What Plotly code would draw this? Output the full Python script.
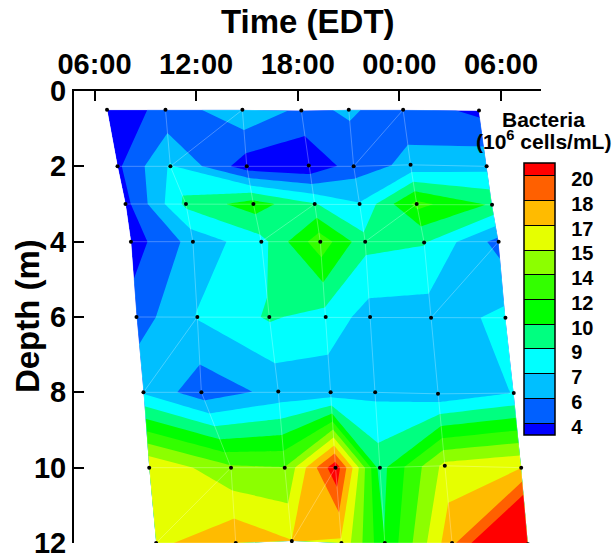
import plotly.graph_objects as go

# Sampling times (hours after the first 06:00 tick), one row per depth level
hours = [
    [0.74, 4.19, 8.73, 12.21, 15.01, 18.22, 22.70],
    [1.36, 4.48, 8.99, 12.65, 15.30, 18.66, 23.15],
    [1.83, 5.40, 9.38, 13.00, 15.65, 19.02, 23.47],
    [2.15, 5.81, 9.85, 13.33, 15.98, 19.46, 23.86],
    [2.48, 6.07, 10.32, 13.65, 16.27, 19.87, 24.26],
    [2.89, 6.31, 10.85, 13.94, 16.57, 20.28, 24.75],
    [3.23, 8.06, 11.23, 14.23, 16.85, 20.68, 25.19],
    [3.64, 8.34, 11.65, 14.58, 17.14, 21.11, 25.59],
]
depths = [
    [0.5, 0.5, 0.5, 0.52, 0.5, 0.5, 0.52],
    [2.0, 2.0, 2.0, 1.98, 2.0, 1.96, 2.0],
    [3.0, 3.0, 3.0, 3.0, 3.0, 3.0, 3.02],
    [4.0, 4.0, 4.0, 4.0, 4.0, 4.02, 4.0],
    [6.0, 6.0, 6.0, 6.0, 6.0, 6.02, 6.02],
    [8.0, 8.0, 7.98, 8.0, 8.0, 8.04, 8.02],
    [10.0, 10.0, 10.0, 10.0, 10.0, 9.95, 10.0],
    [12.0, 12.0, 11.95, 12.0, 12.0, 12.0, 12.03],
]
# Bacteria (10^6 cells/mL)
bacteria = [
    [3.2, 4.36, 7.0, 5.2, 5.8, 4.9, 3.6],
    [3.7, 7.4, 3.1, 2.6, 4.8, 6.0, 6.7],
    [3.5, 9.2, 11.2, 8.9, 7.3, 12.5, 10.2],
    [3.2, 6.2, 8.24, 13.0, 9.3, 8.9, 5.0],
    [4.8, 7.3, 9.0, 8.2, 6.5, 6.4, 7.6],
    [7.0, 4.6, 6.1, 6.2, 6.85, 6.1, 7.25],
    [16.7, 13.9, 13.65, 21.2, 9.75, 15.7, 16.75],
    [16.4, 18.2, 16.85, 16.5, 10.5, 18.0, 26.0],
]
# Triangulation edges visible in the mesh: (row, col, row, col)
diagonals = [
    (1, 1, 0, 2), (1, 4, 0, 5), (3, 2, 2, 3), (3, 4, 2, 5),
    (4, 5, 3, 6), (5, 0, 4, 1), (7, 2, 6, 3), (7, 0, 6, 1),
]

level_start = 4.0
level_end = 20.0
level_size = 1.6
colorbar_range = [3.2, 20.8]
colors = ["#0000ff", "#0060ff", "#00bfff", "#00ffff", "#00ff80", "#00ff00",
          "#33ff00", "#8cff00", "#e6ff00", "#ffbb00", "#ff6000", "#ff0000"]
colorbar_labels = ["4", "6", "7", "9", "10", "12", "14", "15", "17", "18", "20"]
time_ticks = [0, 6, 12, 18, 24]
time_labels = ["06:00", "12:00", "18:00", "00:00", "06:00"]
depth_ticks = [0, 2, 4, 6, 8, 10, 12]

FONT = "Liberation Sans"
nrow, ncol = len(hours), len(hours[0])
colorscale = [[i / (len(colors) - 1), c] for i, c in enumerate(colors)]
contours = dict(start=level_start, end=level_end, size=level_size, coloring="fill")

fig = go.Figure()
fig.add_trace(go.Carpet(
    a=list(range(ncol)), b=list(range(nrow)), x=hours, y=depths,
    aaxis=dict(smoothing=0, showgrid=False, showline=False, showticklabels="none",
               startline=False, endline=False, minorgridcount=0, type="linear"),
    baxis=dict(smoothing=0, showgrid=False, showline=False, showticklabels="none",
               startline=False, endline=False, minorgridcount=0, type="linear"),
    carpet="c1",
))
fig.add_trace(go.Contourcarpet(
    a=list(range(ncol)), b=list(range(nrow)), z=bacteria, carpet="c1",
    autocontour=False, contours=dict(contours, showlines=False),
    line=dict(width=0, smoothing=0), colorscale=colorscale, showscale=False,
))

# Mesh lines
mx, my = [], []
for r in range(nrow):
    mx += hours[r] + [None]
    my += depths[r] + [None]
for c in range(ncol):
    mx += [hours[r][c] for r in range(nrow)] + [None]
    my += [depths[r][c] for r in range(nrow)] + [None]
for r1, c1, r2, c2 in diagonals:
    mx += [hours[r1][c1], hours[r2][c2], None]
    my += [depths[r1][c1], depths[r2][c2], None]
fig.add_trace(go.Scatter(x=mx, y=my, mode="lines", hoverinfo="skip", showlegend=False,
                         line=dict(color="rgba(255,255,255,0.28)", width=1)))
# Sample points
fig.add_trace(go.Scatter(
    x=[v for row in hours for v in row], y=[v for row in depths for v in row],
    mode="markers", marker=dict(color="black", size=4), showlegend=False))

# Colour key: contour trace that sits outside the axis ranges and only supplies the colorbar
fig.add_trace(go.Contour(
    x=[-50, -49], y=[-50, -49], z=[colorbar_range, colorbar_range],
    autocontour=False, contours=dict(contours, showlines=True),
    line=dict(color="black", width=1, smoothing=0), colorscale=colorscale,
    colorbar=dict(
        x=0.9636, xanchor="left", xpad=0, y=0.84, yanchor="top", ypad=0,
        lenmode="pixels", len=272, thicknessmode="pixels", thickness=31,
        outlinecolor="black", outlinewidth=1.5,
        tickmode="array",
        tickvals=[level_start + i * level_size - 0.23 for i in range(len(colorbar_labels))],
        ticktext=colorbar_labels, ticks="outside", ticklen=12,
        tickcolor="rgba(0,0,0,0)",
        tickfont=dict(family=FONT, size=20, color="black", weight=700),
    ),
))

key_font = dict(family=FONT, size=21, color="black", weight=700)
title_font = dict(family=FONT, size=33, color="black", weight=700)
fig.update_layout(
    width=616, height=558, autosize=False, paper_bgcolor="white", plot_bgcolor="white",
    margin=dict(l=74, r=75, t=91, b=15, autoexpand=False),
    showlegend=False,
    xaxis=dict(
        range=[-1.21, 26.36], side="top", showgrid=False, zeroline=False,
        showline=True, linecolor="black", linewidth=2,
        tickmode="array", tickvals=time_ticks, ticktext=time_labels,
        ticks="inside", ticklen=10, tickwidth=2, tickcolor="black",
        ticklabelstandoff=3, ticklabeloverflow="allow",
        tickfont=dict(family=FONT, size=29, color="black", weight=700),
    ),
    yaxis=dict(
        range=[12, 0], showgrid=False, zeroline=False,
        showline=True, linecolor="black", linewidth=2,
        tickmode="array", tickvals=depth_ticks,
        ticks="inside", ticklen=10, tickwidth=2, tickcolor="black",
        ticklabelstandoff=0, ticklabeloverflow="allow",
        tickfont=dict(family=FONT, size=29, color="black", weight=700),
    ),
    annotations=[
        dict(text="Time (EDT)", xref="paper", yref="paper", x=0.5, y=1.1527,
             xanchor="center", yanchor="middle", showarrow=False, font=title_font),
        dict(text="Depth (m)", xref="paper", yref="paper", x=-0.1006, y=0.502, textangle=-90,
             xanchor="center", yanchor="middle", showarrow=False, font=title_font),
        dict(text="Bacteria", xref="paper", yref="paper", x=1.005, y=0.9375,
             xanchor="center", yanchor="middle", showarrow=False, font=key_font),
        dict(text="(10<sup>6</sup> cells/mL)", xref="paper", yref="paper", x=1.005, y=0.892,
             xanchor="center", yanchor="middle", showarrow=False, font=key_font),
    ],
)

fig.write_html("out.html", config={"displayModeBar": False},
               post_script="document.body.style.margin='0';")
